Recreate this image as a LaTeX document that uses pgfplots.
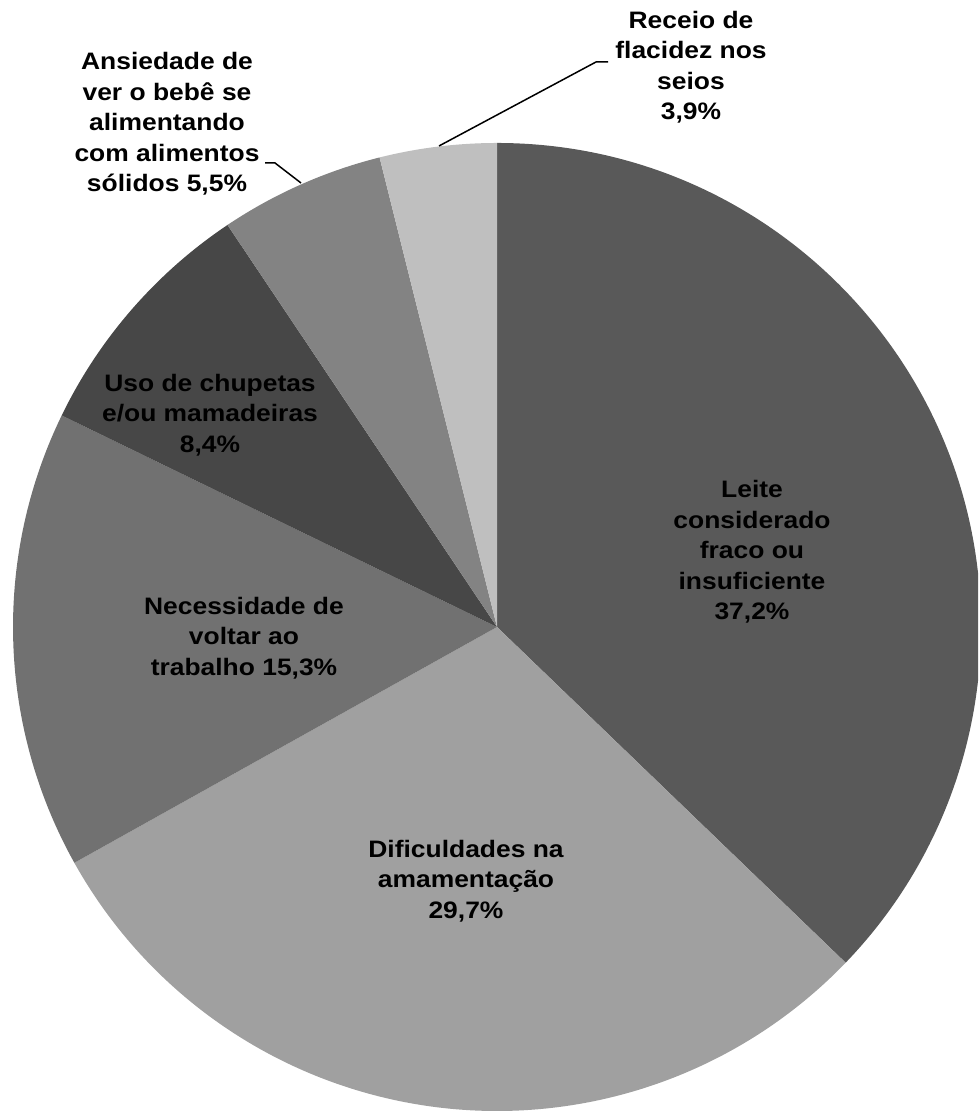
\documentclass[border=0pt]{standalone}
\usepackage{fontspec}
\setmainfont{Liberation Sans}[FakeStretch=1.11]
\usepackage{pgfplots}
\pgfplotsset{compat=1.18}
\definecolor{cLeite}{HTML}{595959}
\definecolor{cDif}{HTML}{A0A0A0}
\definecolor{cNec}{HTML}{717171}
\definecolor{cUso}{HTML}{474747}
\definecolor{cAns}{HTML}{838383}
\definecolor{cRec}{HTML}{BFBFBF}
% slice: cumulative start (%), cumulative end (%), colour
\newcommand\slice[3]{\fill[#3] (axis cs:497,484) -- ++({90-3.6*(#1)}:242pt) arc[start angle={90-3.6*(#1)}, end angle={90-3.6*(#2)}, radius=242pt] -- cycle;}
\newcommand\lblfont{\fontsize{11.9pt}{15.25pt}\selectfont\bfseries}
\begin{document}
\begin{tikzpicture}
\begin{axis}[x=0.5pt,y=0.5pt,xmin=0,xmax=978,ymin=0,ymax=1111,hide axis,clip=true]
\coordinate (ll) at (axis cs:0,0);
\coordinate (ur) at (axis cs:978,1111);
% values: 37.2, 29.7, 15.3, 8.4, 5.5, 3.9 (percent)
\slice{0}{37.2}{cLeite}
\slice{37.2}{37.2+29.7}{cDif}
\slice{37.2+29.7}{37.2+29.7+15.3}{cNec}
\slice{37.2+29.7+15.3}{37.2+29.7+15.3+8.4}{cUso}
\slice{37.2+29.7+15.3+8.4}{37.2+29.7+15.3+8.4+5.5}{cAns}
\slice{37.2+29.7+15.3+8.4+5.5}{37.2+29.7+15.3+8.4+5.5+3.9}{cRec}
\draw[line width=0.75pt] (axis cs:608,1049) -- (axis cs:596,1049) -- (axis cs:439,965);
\draw[line width=0.75pt] (axis cs:265,948) -- (axis cs:275,948) -- (axis cs:301,928);
\node[align=center,font=\lblfont,inner sep=0pt] at (axis cs:752,559) {Leite\\considerado\\fraco ou\\insuficiente\\37,2\%};
\node[align=center,font=\lblfont,inner sep=0pt] at (axis cs:466,230) {Dificuldades na\\amamentação\\29,7\%};
\node[align=center,font=\lblfont,inner sep=0pt] at (axis cs:244,473) {Necessidade de\\voltar ao\\trabalho 15,3\%};
\node[align=center,font=\lblfont,inner sep=0pt] at (axis cs:210,696) {Uso de chupetas\\e/ou mamadeiras\\8,4\%};
\node[align=center,font=\lblfont,inner sep=0pt] at (axis cs:167,987) {Ansiedade de\\ver o bebê se\\alimentando\\com alimentos\\sólidos 5,5\%};
\node[align=center,font=\lblfont,inner sep=0pt] at (axis cs:691,1044) {Receio de\\flacidez nos\\seios\\3,9\%};
\end{axis}
\pgfresetboundingbox
\path[use as bounding box] (ll) rectangle (ur);
\end{tikzpicture}
\end{document}
